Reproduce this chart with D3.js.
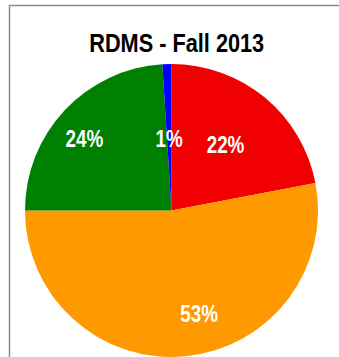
<!DOCTYPE html>
<html>
<head>
<meta charset="utf-8">
<script src="https://cdn.jsdelivr.net/npm/d3@7"></script>
<style>
  html, body { margin: 0; padding: 0; background: #fff; }
  svg { display: block; }
</style>
</head>
<body>
<script>
// ---- data ----
const title = "RDMS - Fall 2013";
const categories = ["Red", "Orange", "Green", "Blue"];
const values = [22, 53, 24, 1];
const colors = ["#f00000", "#ff9900", "#008000", "#0000ff"];

// ---- layout ----
const W = 339, H = 357;
const cx = 171.5, cy = 210.5, R = 146.5;
const labelR = 91;
// per-label nudges from the centroid (Excel-style placement)
const labelNudge = [[-4, 13], [19, 20.5], [-20.7, -1], [0.4, 27.5]];
const FONT = "'Liberation Sans', Arial, sans-serif";
const NARROW = 0.82; // emulate Arial Narrow

const svg = d3.select("body").append("svg")
  .attr("width", W).attr("height", H);

// chart frame (only top and left visible in crop)
svg.append("path")
  .attr("d", "M9.5," + H + " V5.5 H" + W)
  .attr("fill", "none")
  .attr("stroke", "#8c8c8c")
  .attr("stroke-width", 1.5);

svg.append("g")
  .attr("transform", `translate(176.7,51.7) scale(${NARROW},1)`)
  .append("text")
  .attr("text-anchor", "middle")
  .attr("font-family", FONT)
  .attr("font-weight", "bold")
  .attr("font-size", 26.5)
  .attr("fill", "#000")
  .text(title);

const pie = d3.pie().sort(null).value(d => d)(values);
const arc = d3.arc().innerRadius(0).outerRadius(R);
const labelArc = d3.arc().innerRadius(labelR).outerRadius(labelR);

const g = svg.append("g").attr("transform", `translate(${cx},${cy})`);

g.selectAll("path.slice").data(pie).enter().append("path")
  .attr("class", "slice")
  .attr("d", arc)
  .attr("fill", (d, i) => colors[i]);

const total = d3.sum(values);
g.selectAll("g.lbl").data(pie).enter().append("g")
  .attr("class", "lbl")
  .attr("transform", (d, i) => {
    const c = labelArc.centroid(d);
    return `translate(${c[0] + labelNudge[i][0]},${c[1] + labelNudge[i][1]}) scale(${NARROW},1)`;
  })
  .append("text")
  .attr("text-anchor", "middle")
  .attr("font-family", FONT)
  .attr("font-weight", "bold")
  .attr("font-size", 23)
  .attr("fill", "#fff")
  .text(d => Math.round(d.value / total * 100) + "%");
</script>
</body>
</html>
